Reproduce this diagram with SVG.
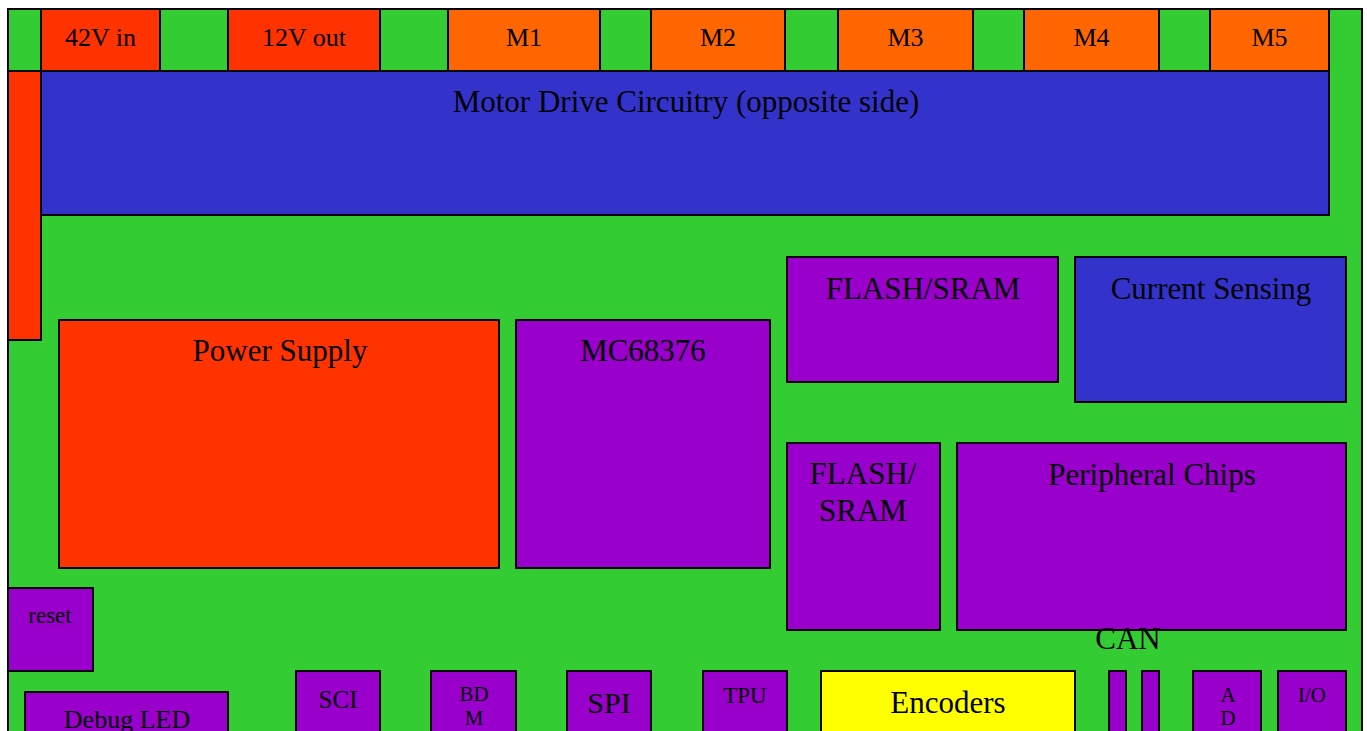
<svg xmlns="http://www.w3.org/2000/svg" width="1367" height="731" viewBox="0 0 1367 731">
<style>
rect{stroke:#000;stroke-width:2}
text{font-family:"Liberation Serif","Times New Roman",serif;text-anchor:middle;fill:#000}
.g{fill:#33CC33}.r{fill:#FF3300}.o{fill:#FF6600}.b{fill:#3333CC}.p{fill:#9900CC}.y{fill:#FFFF00}
.L{font-size:31px}.S{font-size:26px}
</style>
<rect width="1367" height="731" fill="#fff" style="stroke:none"/>
<g id="board"><rect class="g" x="8" y="9" width="1354" height="740"/></g>
<g id="toprow"><rect class="g" x="8" y="9" width="1321" height="62"/></g>
<g id="v42in"><rect class="r" x="41" y="9" width="119" height="62"/><text class="S" x="100.5" y="46">42V in</text></g>
<g id="v12out"><rect class="r" x="228" y="9" width="152" height="62"/><text class="S" x="304" y="46">12V out</text></g>
<g id="m1"><rect class="o" x="448" y="9" width="152" height="62"/><text class="S" x="524" y="46">M1</text></g>
<g id="m2"><rect class="o" x="651" y="9" width="134" height="62"/><text class="S" x="718" y="46">M2</text></g>
<g id="m3"><rect class="o" x="838" y="9" width="135" height="62"/><text class="S" x="905.5" y="46">M3</text></g>
<g id="m4"><rect class="o" x="1024" y="9" width="135" height="62"/><text class="S" x="1091.5" y="46">M4</text></g>
<g id="m5"><rect class="o" x="1210" y="9" width="119" height="62"/><text class="S" x="1269.5" y="46">M5</text></g>
<g id="redstrip"><rect class="r" x="8" y="71" width="33" height="269"/></g>
<g id="motor"><rect class="b" x="41" y="71" width="1288" height="144"/><text class="L" x="686" y="112">Motor Drive Circuitry (opposite side)</text></g>
<g id="power"><rect class="r" x="59" y="320" width="440" height="248"/><text class="L" x="280" y="361">Power Supply</text></g>
<g id="mcu"><rect class="p" x="516" y="320" width="254" height="248"/><text class="L" x="643" y="361">MC68376</text></g>
<g id="flash1"><rect class="p" x="787" y="257" width="271" height="125"/><text class="L" x="923" y="299">FLASH/SRAM</text></g>
<g id="current"><rect class="b" x="1075" y="257" width="271" height="145"/><text class="L" x="1211" y="299">Current Sensing</text></g>
<g id="flash2"><rect class="p" x="787" y="443" width="153" height="187"/><text class="L" x="863" y="484">FLASH/</text><text class="L" x="863" y="521">SRAM</text></g>
<g id="periph"><rect class="p" x="957" y="443" width="389" height="187"/><text class="L" x="1152" y="485">Peripheral Chips</text></g>
<g id="reset"><rect class="p" x="8" y="588" width="85" height="83"/><text x="50" y="623" font-size="23">reset</text></g>
<g id="debug"><rect class="p" x="25" y="692" width="203" height="60"/><text class="S" x="127" y="728">Debug LED</text></g>
<g id="sci"><rect class="p" x="296" y="671" width="84" height="80"/><text x="338" y="708" font-size="25">SCI</text></g>
<g id="bdm"><rect class="p" x="431" y="671" width="85" height="80"/><text x="474" y="701" font-size="21">BD</text><text x="474" y="725" font-size="21">M</text></g>
<g id="spi"><rect class="p" x="567" y="671" width="84" height="80"/><text x="609" y="713" font-size="30">SPI</text></g>
<g id="tpu"><rect class="p" x="703" y="671" width="84" height="80"/><text x="745" y="703" font-size="23">TPU</text></g>
<g id="encoders"><rect class="y" x="821" y="671" width="254" height="80"/><text class="L" x="948" y="713">Encoders</text></g>
<g id="can"><text class="L" x="1128" y="649">CAN</text><rect class="p" x="1109" y="671" width="17" height="80"/><rect class="p" x="1142" y="671" width="17" height="80"/></g>
<g id="ad"><rect class="p" x="1193" y="671" width="68" height="80"/><text x="1228" y="702" font-size="21">A</text><text x="1228" y="725" font-size="21">D</text></g>
<g id="io"><rect class="p" x="1278" y="671" width="68" height="80"/><text x="1312" y="702" font-size="21">I/O</text></g>
<g id="connectors"></g>
</svg>
